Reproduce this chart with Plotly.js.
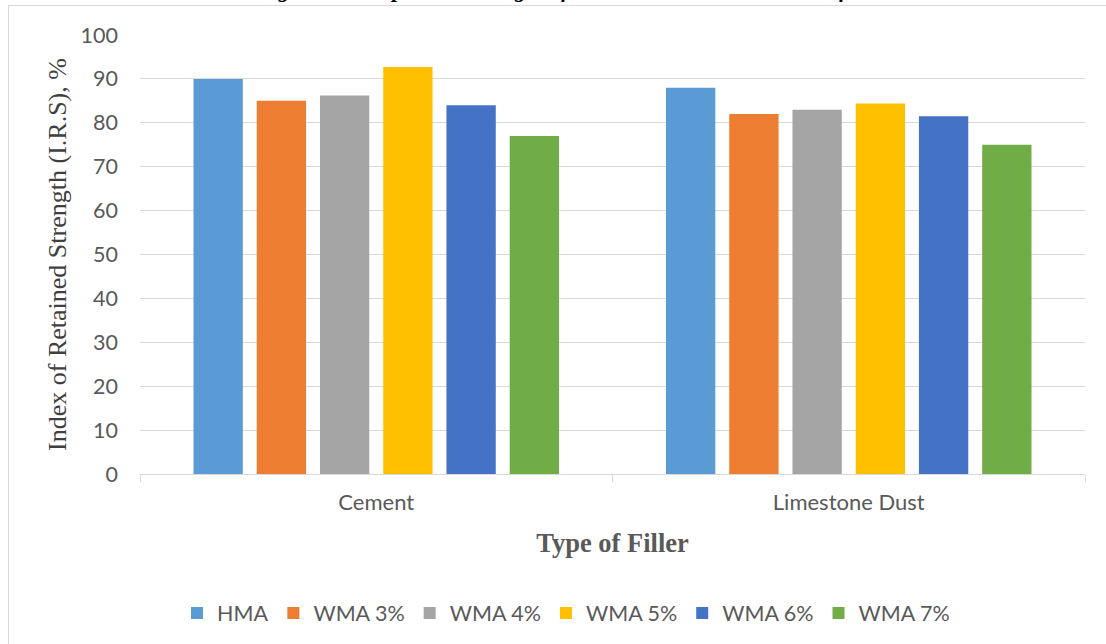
<!DOCTYPE html>
<html>
<head>
<meta charset="utf-8">
<script src="https://cdn.plot.ly/plotly-3.0.1.min.js"></script>
<style>
html,body{margin:0;padding:0;background:#fff;overflow:hidden;width:1106px;height:644px;}
#wrap{position:relative;width:1106px;height:644px;overflow:hidden;}
#chart{width:1106px;height:644px;}
#frame{position:absolute;left:8px;top:5px;width:1098px;height:639px;border-left:1.5px solid #d9d9d9;border-top:1.5px solid #d9d9d9;border-right:none;border-bottom:none;box-sizing:border-box;pointer-events:none;}
</style>
</head>
<body>
<div id="wrap">
<div id="chart"></div>
<div id="frame"></div>
</div>
<script>
// Data
const categories = ["Cement", "Limestone Dust"];
const seriesNames = ["HMA", "WMA 3%", "WMA 4%", "WMA 5%", "WMA 6%", "WMA 7%"];
const HMA   = [90.0, 88.0];
const WMA3  = [85.0, 82.0];
const WMA4  = [86.2, 83.0];
const WMA5  = [92.7, 84.4];
const WMA6  = [84.0, 81.5];
const WMA7  = [77.0, 75.0];
const seriesValues = [HMA, WMA3, WMA4, WMA5, WMA6, WMA7];
const colors = ["#5B9BD5", "#ED7D31", "#A5A5A5", "#FFC000", "#4472C4", "#70AD47"];
const yTicks = [0,10,20,30,40,50,60,70,80,90,100];
const titleText = "Figure 8: Compressive strength of mixtures with limestone dust filler";

const sansFont = "Lato, 'Open Sans', sans-serif";
const serifFont = "'Liberation Serif', 'DejaVu Serif', serif";

const traces = seriesNames.map((name, i) => ({
  type: "bar",
  name: name,
  x: categories,
  y: seriesValues[i],
  marker: {color: colors[i], line: {width: 0}},
  hoverinfo: "x+y+name"
}));

const L = 140, R = 21, T = 35, B = 169;
const W = 1106, H = 644;
const pw = W - L - R, ph = H - T - B;
const px2x = p => (p - L) / pw;
const py2y = p => (H - B - p) / ph;

const layout = {
  width: W, height: H,
  margin: {l: L, r: R, t: T, b: B, pad: 0},
  paper_bgcolor: "#ffffff",
  plot_bgcolor: "#ffffff",
  barmode: "group",
  bargap: 0.197,
  bargroupgap: 0.22,
  showlegend: true,
  legend: {
    orientation: "h",
    x: px2x(177), xanchor: "left",
    y: py2y(613), yanchor: "middle",
    font: {family: sansFont, size: 21.5, color: "#595959"},
    itemwidth: 30,
    traceorder: "normal"
  },
  xaxis: {
    type: "category",
    showgrid: false,
    showline: true,
    linecolor: "#d9d9d9",
    linewidth: 1,
    ticks: "outside",
    tickson: "boundaries",
    ticklen: 7,
    tickcolor: "#d9d9d9",
    tickfont: {family: sansFont, size: 22, color: "#595959"},
    ticklabelstandoff: 9,
    title: {text: "Type of Filler", font: {family: serifFont, size: 26.5, color: "#595959", weight: "bold"}, standoff: 19},
    automargin: false,
    fixedrange: true
  },
  yaxis: {
    range: [0, 100],
    tickvals: yTicks,
    ticktext: yTicks.map(String),
    showgrid: true,
    gridcolor: "#d9d9d9",
    gridwidth: 1,
    zeroline: false,
    showline: false,
    ticks: "",
    tickfont: {family: sansFont, size: 21.5, color: "#595959"},
    ticklabelstandoff: 21,
    title: {text: "Index of Retained Strength (I.R.S), %", font: {family: serifFont, size: 26, color: "#404040"}, standoff: 6},
    automargin: false,
    fixedrange: true
  },
  annotations: [{
    text: titleText,
    xref: "paper", yref: "paper",
    x: px2x(570), xanchor: "center",
    y: py2y(3.5), yanchor: "bottom",
    showarrow: false,
    font: {family: serifFont, size: 22, color: "#000000", weight: "bold", style: "italic"}
  }]
};

Plotly.newPlot("chart", traces, layout, {displayModeBar: false, staticPlot: true});
</script>
</body>
</html>
